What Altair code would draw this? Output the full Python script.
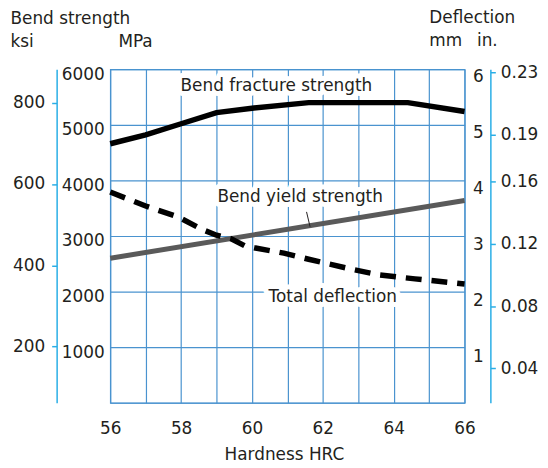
import altair as alt
import pandas as pd

# ---- data ----
hrc_fracture = [56, 57, 58, 59, 60, 61.6, 64.4, 66]
mpa_fracture = [4660, 4820, 5020, 5220, 5300, 5400, 5400, 5240]

hrc_yield = [56, 66]
mpa_yield = [2600, 3640]

hrc_deflection = [56, 57, 57.9, 58.6, 59, 59.4, 59.8, 60.1, 60.9, 61.6, 62, 62.9, 63.6, 64.6, 66]
mm_deflection = [3.94, 3.69, 3.50, 3.27, 3.17, 3.11, 2.98, 2.94, 2.85, 2.74, 2.68, 2.55, 2.46, 2.39, 2.30]

label_text = ["Bend fracture strength", "Bend yield strength", "Total deflection"]
label_hrc = [60.69, 61.36, 62.28]
label_mpa = [5616, 3607, 1816]

leader_hrc = [61.54, 61.64]
leader_mpa = [3434, 3166]

hrc_ticks = list(range(56, 67))
mpa_ticks = [0, 1000, 2000, 3000, 4000, 5000, 6000]
mm_ticks = [1, 2, 3, 4, 5, 6]
ksi_ticks = [200, 400, 600, 800]
in_ticks = [0.04, 0.08, 0.12, 0.16, 0.19, 0.23]

GRID = "#4a93cf"
CYAN = "#2aaee6"
TXT = "#231f20"
FONT = "DejaVu Sans"

fracture_df = pd.DataFrame({"hrc": hrc_fracture, "mpa": mpa_fracture})
yield_df = pd.DataFrame({"hrc": hrc_yield, "mpa": mpa_yield})
defl_df = pd.DataFrame({"hrc": hrc_deflection, "mm": mm_deflection})
label_df = pd.DataFrame({"hrc": label_hrc, "mpa": label_mpa, "txt": label_text})
leader_df = pd.DataFrame({"hrc": leader_hrc, "mpa": leader_mpa})
ksi_df = pd.DataFrame({"ksi": ksi_ticks})
in_df = pd.DataFrame({"inch": in_ticks})


def x_enc():
    return alt.X(
        "hrc:Q",
        scale=alt.Scale(domain=[56, 66], nice=False, zero=False),
        axis=alt.Axis(
            values=hrc_ticks,
            labelExpr="datum.value % 2 == 0 ? datum.label : ''",
            grid=True, gridColor=GRID, gridWidth=1.2, gridOpacity=1,
            domain=False, ticks=False, tickSize=0,
            labelPadding=18, labelFlush=False, labelOverlap=False,
            title="Hardness HRC", titleX=175, titleY=57,
            titleAlign="center", titleBaseline="alphabetic", titleAngle=0,
        ),
    )


def y_mpa():
    return alt.Y(
        "mpa:Q",
        scale=alt.Scale(domain=[0, 6000], nice=False, zero=False),
        axis=alt.Axis(
            orient="left", values=mpa_ticks,
            labelExpr="datum.value == 0 ? '' : datum.value",
            grid=True, gridColor=GRID, gridWidth=1.2, gridOpacity=1,
            domain=False, ticks=False, tickSize=0,
            labelPadding=6, labelOffset=5, labelFlush=False,
            title="MPa", titleAngle=0, titleX=25, titleY=-23,
            titleAlign="center", titleBaseline="alphabetic",
        ),
    )


fracture = alt.Chart(fracture_df).mark_line(color="#000000", strokeWidth=5.5).encode(x=x_enc(), y=y_mpa())
yld = alt.Chart(yield_df).mark_line(color="#5a5a5a", strokeWidth=5).encode(x=x_enc(), y=y_mpa())
halo = alt.Chart(label_df).mark_text(
    font=FONT, fontSize=17, color="white", stroke="white", strokeWidth=10,
    strokeJoin="round", align="center", baseline="alphabetic"
).encode(x=x_enc(), y=y_mpa(), text="txt:N")
labels = alt.Chart(label_df).mark_text(
    font=FONT, fontSize=17, color=TXT, align="center", baseline="alphabetic"
).encode(x=x_enc(), y=y_mpa(), text="txt:N")
leader = alt.Chart(leader_df).mark_line(color=TXT, strokeWidth=1).encode(x=x_enc(), y=y_mpa())

mpa_layer = alt.layer(fracture, yld, halo, labels, leader)

defl = alt.Chart(defl_df).mark_line(
    color="#000000", strokeWidth=5.5, strokeDash=[16, 10]
).encode(
    x=x_enc(),
    y=alt.Y(
        "mm:Q",
        scale=alt.Scale(domain=[0.18, 6.13], nice=False, zero=False),
        axis=alt.Axis(
            orient="right", values=mm_ticks, grid=False,
            domain=False, ticks=False, tickSize=0, labelPadding=8, labelFlush=False,
            title=["Deflection", "mm"], titleAngle=0, titleX=-36, titleY=-47,
            titleAlign="left", titleBaseline="alphabetic", titleLineHeight=23,
        ),
    ),
)

ksi_layer = alt.Chart(ksi_df).mark_point(opacity=0).encode(
    y=alt.Y(
        "ksi:Q",
        scale=alt.Scale(domain=[62, 882], nice=False, zero=False),
        axis=alt.Axis(
            orient="left", offset=54, values=ksi_ticks, grid=False,
            domainColor=CYAN, domainWidth=1.5, tickColor=CYAN, tickWidth=1.5, tickSize=5,
            labelPadding=7, labelFlush=False,
            title=["Bend strength", "ksi"], titleAngle=0, titleX=-47, titleY=-46,
            titleAlign="left", titleBaseline="alphabetic", titleLineHeight=23,
        ),
    )
)

in_layer = alt.Chart(in_df).mark_point(opacity=0).encode(
    y=alt.Y(
        "inch:Q",
        scale=alt.Scale(domain=[0.018, 0.232], nice=False, zero=False),
        axis=alt.Axis(
            orient="right", offset=26, values=in_ticks, format=".2f", grid=False,
            domainColor=CYAN, domainWidth=1.5, tickColor=CYAN, tickWidth=1.5, tickSize=5,
            labelPadding=5, labelFlush=False,
            title="in.", titleAngle=0, titleX=-14, titleY=-24,
            titleAlign="left", titleBaseline="alphabetic",
        ),
    )
)

chart = alt.layer(mpa_layer, defl, ksi_layer, in_layer).resolve_scale(
    y="independent"
).properties(
    width=357, height=336,
    padding={"left": 103, "top": 60, "right": 76, "bottom": 62},
    autosize=alt.AutoSizeParams(type="none"),
).configure_view(
    stroke=GRID, strokeWidth=1.2
).configure_axis(
    labelFont=FONT, titleFont=FONT, labelFontSize=17, titleFontSize=17,
    labelColor=TXT, titleColor=TXT, titleFontWeight="normal",
)

chart.save("out.html", embed_options={"renderer": "svg", "actions": False})
